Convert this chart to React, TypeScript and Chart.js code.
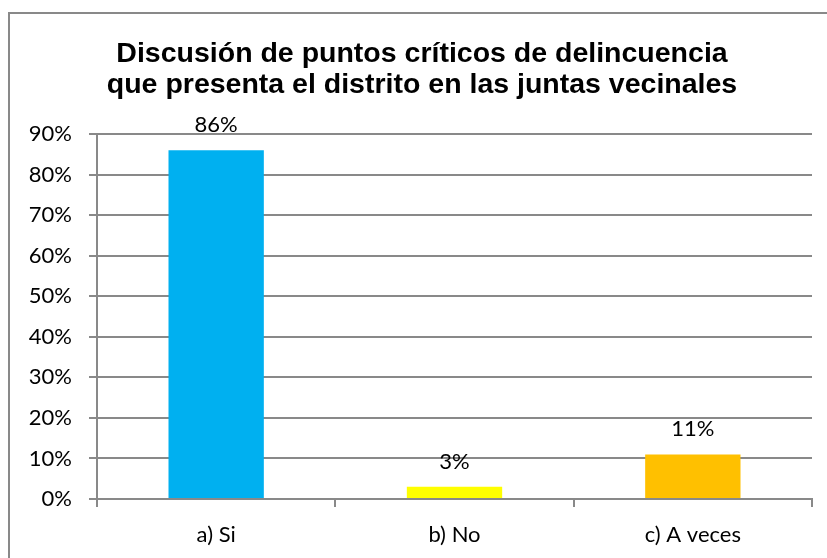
import React, { useEffect, useRef } from "react";
import { Chart, registerables } from "chart.js";

Chart.register(...registerables);

const categories = ["a) Si", "b) No", "c) A veces"];
const values = [86, 3, 11];
const barColors = ["#00B0F0", "#FFFF00", "#FFC000"];
const titleLines = [
  "Discusión de puntos críticos de delincuencia",
  "que presenta el distrito en las juntas vecinales",
];
const yMax = 90;
const yStep = 10;

const LABEL_FONT = "Lato, 'Open Sans', sans-serif";
const GRID = "#898989";

const framePlugin = {
  id: "frame",
  beforeDraw(chart: any) {
    const ctx = chart.ctx;
    ctx.save();
    ctx.fillStyle = "#ffffff";
    ctx.fillRect(0, 0, chart.width, chart.height);
    ctx.strokeStyle = GRID;
    ctx.lineWidth = 2;
    ctx.strokeRect(9, 13, chart.width + 20, chart.height + 20);
    ctx.fillStyle = "#000";
    ctx.font = "bold 28.5px 'Liberation Sans', Arial, sans-serif";
    ctx.textAlign = "center";
    ctx.textBaseline = "alphabetic";
    ctx.fillText(titleLines[0], 422, 62);
    ctx.fillText(titleLines[1], 422, 93);
    ctx.restore();
  },
  afterDatasetsDraw(chart: any) {
    const ctx = chart.ctx;
    const meta = chart.getDatasetMeta(0);
    ctx.save();
    ctx.fillStyle = "#000";
    ctx.font = `22px ${LABEL_FONT}`;
    ctx.textAlign = "center";
    ctx.textBaseline = "middle";
    meta.data.forEach((el: any, i: number) => {
      ctx.fillText(values[i] + "%", el.x, el.y - 25);
    });
    ctx.restore();
  },
};

export default function App() {
  const ref = useRef<HTMLCanvasElement>(null);
  useEffect(() => {
    if (!ref.current) return;
    const chart = new Chart(ref.current, {
      type: "bar",
      data: {
        labels: categories,
        datasets: [
          {
            data: values,
            backgroundColor: barColors,
            borderWidth: 0,
            barPercentage: 1,
            categoryPercentage: 0.4,
          },
        ],
      },
      options: {
        animation: false,
        responsive: false,
        maintainAspectRatio: false,
        layout: { padding: { top: 134, right: 15, bottom: 0, left: 0 } },
        plugins: {
          legend: { display: false },
          title: { display: false },
          tooltip: { enabled: false },
        },
        scales: {
          x: {
            afterFit: (s: any) => {
              s.height = 59;
            },
            grid: {
              offset: true,
              drawOnChartArea: false,
              drawTicks: true,
              tickLength: 8,
              color: GRID,
              lineWidth: 2,
            },
            border: { display: true, color: GRID, width: 2 },
            ticks: {
              color: "#000",
              font: { family: LABEL_FONT, size: 22 },
              padding: 15,
            },
          },
          y: {
            min: 0,
            max: yMax,
            afterFit: (s: any) => {
              s.width = 97;
            },
            grid: {
              color: GRID,
              lineWidth: 2,
              drawTicks: true,
              tickLength: 8,
            },
            border: { display: true, color: GRID, width: 2 },
            ticks: {
              stepSize: yStep,
              color: "#000",
              font: { family: LABEL_FONT, size: 22 },
              padding: 17,
              callback: (v: any) => v + "%",
            },
          },
        },
      },
      plugins: [framePlugin],
    });
    return () => chart.destroy();
  }, []);
  return (
    <div style={{ position: "fixed", left: 0, top: 0, width: 827, height: 558 }}>
      <canvas ref={ref} width={827} height={558} style={{ width: 827, height: 558 }} />
    </div>
  );
}
